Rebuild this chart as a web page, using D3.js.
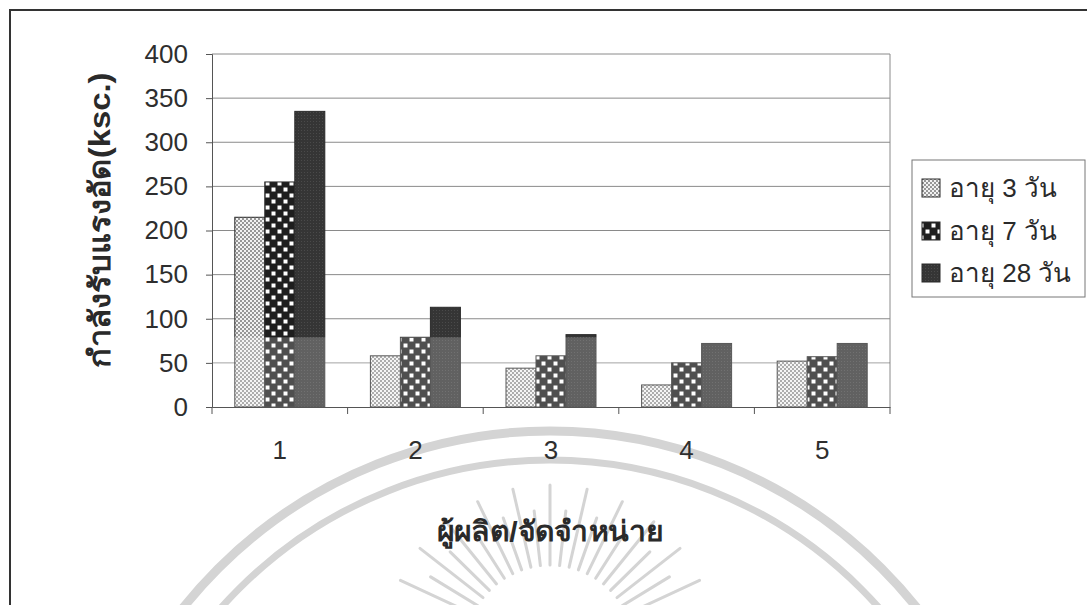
<!DOCTYPE html>
<html><head><meta charset="utf-8">
<script src="https://cdn.jsdelivr.net/npm/d3@7"></script>
<style>
html,body{margin:0;padding:0;background:#fff;}
svg{display:block;}
text{font-family:"Liberation Sans","DejaVu Sans","Noto Sans",sans-serif;}
</style></head>
<body>
<svg id="chart" width="1087" height="605"></svg>
<script>
const categories = ["1","2","3","4","5"];
const seriesNames = ["อายุ 3 วัน","อายุ 7 วัน","อายุ 28 วัน"];
const age3 = [215, 58, 44, 25, 52];
const age7 = [255, 79, 58, 50, 57];
const age28 = [335, 113, 82, 72, 72];
const yTicks = [0,50,100,150,200,250,300,350,400];
const yTitle = "กำลังรับแรงอัด(ksc.)";
const xTitle = "ผู้ผลิต/จัดจำหน่าย";

(function(){
const seriesValues = [age3, age7, age28];
const svg = d3.select("#chart");
const defs = svg.append("defs");

// patterns
const p1 = defs.append("pattern").attr("id","pat3").attr("patternUnits","userSpaceOnUse").attr("width",4).attr("height",4);
p1.append("rect").attr("width",4).attr("height",4).attr("fill","#f2f2f2");
p1.append("circle").attr("cx",1).attr("cy",1).attr("r",0.95).attr("fill","#707070");
p1.append("circle").attr("cx",3).attr("cy",3).attr("r",0.95).attr("fill","#707070");

const p2 = defs.append("pattern").attr("id","pat7").attr("patternUnits","userSpaceOnUse").attr("width",12).attr("height",12);
p2.append("rect").attr("width",12).attr("height",12).attr("fill","#1e1e1e");
p2.append("rect").attr("x",1.5).attr("y",1.5).attr("width",4).attr("height",4).attr("fill","#fff");
p2.append("rect").attr("x",7.5).attr("y",7.5).attr("width",4).attr("height",4).attr("fill","#fff");

const p3 = defs.append("pattern").attr("id","pat28").attr("patternUnits","userSpaceOnUse").attr("width",3).attr("height",3);
p3.append("rect").attr("width",3).attr("height",3).attr("fill","#353535");
p3.append("rect").attr("x",1).attr("y",1).attr("width",1).attr("height",1).attr("fill","#4a4a4a");

const fills = ["url(#pat3)","url(#pat7)","url(#pat28)"];

// watermark (faint seal)
const wm = svg.append("g").attr("fill","none").attr("stroke","#d4d4d4");
const wcx = 550;
wm.append("circle").attr("cx",wcx).attr("cy",900).attr("r",469).attr("stroke-width",9);
wm.append("circle").attr("cx",wcx).attr("cy",900).attr("r",440).attr("stroke-width",7);
const rayAngles = d3.range(205, 336, 6.5);
rayAngles.forEach((a,i) => {
  const rad = a*Math.PI/180;
  const r0 = 85, r1 = (i%2===0) ? 165 : 140;
  wm.append("line")
    .attr("x1", wcx + r0*Math.cos(rad)).attr("y1", 650 + r0*Math.sin(rad))
    .attr("x2", wcx + r1*Math.cos(rad)).attr("y2", 650 + r1*Math.sin(rad))
    .attr("stroke-width",3).attr("stroke-linecap","round");
});

// outer frame
svg.append("path").attr("d","M10,605 V10 H1087").attr("fill","none").attr("stroke","#333").attr("stroke-width",2);

const pL = 212, pR = 890, pT = 54, pB = 407;
const y = d3.scaleLinear().domain([0,400]).range([pB, pT]);
const x0 = d3.scaleBand().domain(categories).range([pL, pR]).padding(0);
const x1 = d3.scaleBand().domain(seriesNames).range([0, x0.bandwidth()]).paddingInner(0).paddingOuter(0.76);

// gridlines
svg.append("g").selectAll("line").data(yTicks.filter(d=>d>0)).join("line")
  .attr("x1",pL).attr("x2",pR).attr("y1",d=>y(d)).attr("y2",d=>y(d))
  .attr("stroke","#8a8a8a").attr("stroke-width",1);
svg.append("line").attr("x1",pR).attr("x2",pR).attr("y1",pT).attr("y2",pB).attr("stroke","#8a8a8a");

// bars
const barG = svg.append("g");
categories.forEach((c,ci) => {
  seriesNames.forEach((s,si) => {
    const v = seriesValues[si][ci];
    barG.append("rect")
      .attr("x", x0(c) + x1(s)).attr("width", x1.bandwidth())
      .attr("y", y(v)).attr("height", y(0) - y(v))
      .attr("fill", fills[si]).attr("stroke","#2a2a2a").attr("stroke-width",1);
  });
});
// scan band lightening (lower part of image)
svg.append("rect").attr("x",pL+1).attr("width",pR-pL-2).attr("y",y(79)).attr("height",y(0)-y(79))
  .attr("fill","#fff").attr("opacity",0.22);

// y axis
const yAxis = svg.append("g").attr("transform",`translate(${pL},0)`)
  .call(d3.axisLeft(y).tickValues(yTicks).tickSize(6).tickPadding(18));
yAxis.select(".domain").attr("stroke","#555");
yAxis.selectAll(".tick line").attr("stroke","#555");
yAxis.selectAll("text").attr("font-size",26).attr("fill","#2e2e2e").attr("font-family","Liberation Sans, Arial, sans-serif");

// x axis
const xAxis = svg.append("g").attr("transform",`translate(0,${pB})`)
  .call(d3.axisBottom(x0).tickSize(0).tickPadding(34));
xAxis.select(".domain").attr("stroke","#555");
xAxis.selectAll("text").attr("font-size",26).attr("fill","#2e2e2e").attr("font-family","Liberation Sans, Arial, sans-serif");
const bounds = categories.map(c=>x0(c)).concat([pR]);
svg.append("g").selectAll("line").data(bounds).join("line")
  .attr("x1",d=>d).attr("x2",d=>d).attr("y1",pB).attr("y2",pB+7).attr("stroke","#555");

// axis titles
svg.append("text").attr("transform","translate(110,220) rotate(-90)")
  .attr("text-anchor","middle").attr("font-size",29).attr("font-weight","bold").attr("fill","#2a2a2a")
  .attr("textLength",295).attr("lengthAdjust","spacingAndGlyphs")
  .text(yTitle);
svg.append("text").attr("x",550).attr("y",541)
  .attr("text-anchor","middle").attr("font-size",28).attr("font-weight","bold").attr("fill","#2a2a2a")
  .attr("textLength",226).attr("lengthAdjust","spacingAndGlyphs")
  .text(xTitle);

// legend
const lg = svg.append("g");
lg.append("rect").attr("x",912).attr("y",160).attr("width",173).attr("height",137)
  .attr("fill","#fff").attr("stroke","#777").attr("stroke-width",1);
const legY = [188, 231, 273];
seriesNames.forEach((s,i) => {
  lg.append("rect").attr("x",922).attr("y",legY[i]-9).attr("width",18).attr("height",18)
    .attr("fill",fills[i]).attr("stroke","#2a2a2a");
  lg.append("text").attr("x",949).attr("y",legY[i]+9).attr("font-size",26).attr("fill","#2a2a2a").text(s);
});
})();
</script>
</body></html>
